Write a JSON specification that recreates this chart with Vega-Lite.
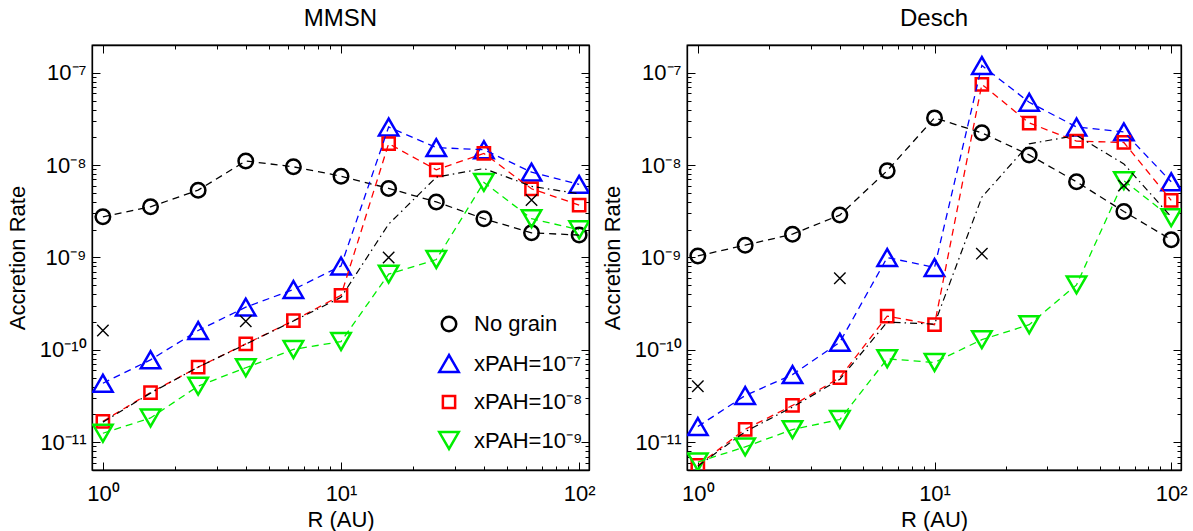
{
  "$schema": "https://vega.github.io/schema/vega-lite/v6.json",
  "padding": {"left": 5, "top": 5, "right": 5, "bottom": 3},
  "config": {
    "font": "Liberation Sans",
    "view": {"stroke": "black", "strokeWidth": 1.3},
    "axis": {"grid": false, "labelFont": "Liberation Sans", "titleFont": "Liberation Sans", "labelFontSize": 22, "titleFontSize": 22, "titleFontWeight": "normal", "labelColor": "black", "titleColor": "black", "domainColor": "black", "tickColor": "black", "domainWidth": 1.3, "tickWidth": 1},
    "legend": {"labelFont": "Liberation Sans", "labelFontSize": 22, "labelColor": "black", "symbolStrokeWidth": 2.5, "rowPadding": 12.5, "labelOffset": 14, "padding": 0},
    "title": {"font": "Liberation Sans", "fontSize": 24, "fontWeight": "normal", "color": "black"}
  },
  "datasets": {
    "mmsn": [
      {"R": 1, "series": "No grain", "rate": 2.76e-9},
      {"R": 1.585, "series": "No grain", "rate": 3.54e-9},
      {"R": 2.512, "series": "No grain", "rate": 5.36e-9},
      {"R": 3.981, "series": "No grain", "rate": 1.11e-8},
      {"R": 6.31, "series": "No grain", "rate": 9.6e-9},
      {"R": 10, "series": "No grain", "rate": 7.6e-9},
      {"R": 15.85, "series": "No grain", "rate": 5.6e-9},
      {"R": 25.12, "series": "No grain", "rate": 4.0e-9},
      {"R": 39.81, "series": "No grain", "rate": 2.63e-9},
      {"R": 63.1, "series": "No grain", "rate": 1.85e-9},
      {"R": 100, "series": "No grain", "rate": 1.75e-9},
      {"R": 1, "series": "xPAH=10⁻⁷", "rate": 4.35e-11},
      {"R": 1.585, "series": "xPAH=10⁻⁷", "rate": 7.8e-11},
      {"R": 2.512, "series": "xPAH=10⁻⁷", "rate": 1.62e-10},
      {"R": 3.981, "series": "xPAH=10⁻⁷", "rate": 2.9e-10},
      {"R": 6.31, "series": "xPAH=10⁻⁷", "rate": 4.5e-10},
      {"R": 10, "series": "xPAH=10⁻⁷", "rate": 8.1e-10},
      {"R": 15.85, "series": "xPAH=10⁻⁷", "rate": 2.59e-8},
      {"R": 25.12, "series": "xPAH=10⁻⁷", "rate": 1.55e-8},
      {"R": 39.81, "series": "xPAH=10⁻⁷", "rate": 1.47e-8},
      {"R": 63.1, "series": "xPAH=10⁻⁷", "rate": 8.4e-9},
      {"R": 100, "series": "xPAH=10⁻⁷", "rate": 6.2e-9},
      {"R": 1, "series": "xPAH=10⁻⁸", "rate": 1.68e-11},
      {"R": 1.585, "series": "xPAH=10⁻⁸", "rate": 3.45e-11},
      {"R": 2.512, "series": "xPAH=10⁻⁸", "rate": 6.5e-11},
      {"R": 3.981, "series": "xPAH=10⁻⁸", "rate": 1.16e-10},
      {"R": 6.31, "series": "xPAH=10⁻⁸", "rate": 2.07e-10},
      {"R": 10, "series": "xPAH=10⁻⁸", "rate": 3.9e-10},
      {"R": 15.85, "series": "xPAH=10⁻⁸", "rate": 1.71e-8},
      {"R": 25.12, "series": "xPAH=10⁻⁸", "rate": 8.9e-9},
      {"R": 39.81, "series": "xPAH=10⁻⁸", "rate": 1.34e-8},
      {"R": 63.1, "series": "xPAH=10⁻⁸", "rate": 5.55e-9},
      {"R": 100, "series": "xPAH=10⁻⁸", "rate": 3.7e-9},
      {"R": 1, "series": "xPAH=10⁻⁹", "rate": 1.25e-11},
      {"R": 1.585, "series": "xPAH=10⁻⁹", "rate": 1.83e-11},
      {"R": 2.512, "series": "xPAH=10⁻⁹", "rate": 4.05e-11},
      {"R": 3.981, "series": "xPAH=10⁻⁹", "rate": 6.4e-11},
      {"R": 6.31, "series": "xPAH=10⁻⁹", "rate": 1.01e-10},
      {"R": 10, "series": "xPAH=10⁻⁹", "rate": 1.23e-10},
      {"R": 15.85, "series": "xPAH=10⁻⁹", "rate": 6.6e-10},
      {"R": 25.12, "series": "xPAH=10⁻⁹", "rate": 9.5e-10},
      {"R": 39.81, "series": "xPAH=10⁻⁹", "rate": 6.5e-9},
      {"R": 63.1, "series": "xPAH=10⁻⁹", "rate": 2.63e-9},
      {"R": 100, "series": "xPAH=10⁻⁹", "rate": 2.0e-9},
      {"R": 1, "series": "dash-dot", "rate": 1.65e-11},
      {"R": 1.585, "series": "dash-dot", "rate": 3.4e-11},
      {"R": 2.512, "series": "dash-dot", "rate": 6.5e-11},
      {"R": 3.981, "series": "dash-dot", "rate": 1.15e-10},
      {"R": 6.31, "series": "dash-dot", "rate": 2.05e-10},
      {"R": 10, "series": "dash-dot", "rate": 3.7e-10},
      {"R": 15.85, "series": "dash-dot", "rate": 2.3e-9},
      {"R": 25.12, "series": "dash-dot", "rate": 7.4e-9},
      {"R": 39.81, "series": "dash-dot", "rate": 9.2e-9},
      {"R": 63.1, "series": "dash-dot", "rate": 5.9e-9},
      {"R": 100, "series": "dash-dot", "rate": 4.9e-9},
      {"R": 1, "series": "cross", "rate": 1.62e-10},
      {"R": 3.981, "series": "cross", "rate": 2.04e-10},
      {"R": 15.85, "series": "cross", "rate": 1.0e-9},
      {"R": 63.1, "series": "cross", "rate": 4.2e-9}
    ],
    "desch": [
      {"R": 1, "series": "No grain", "rate": 1.04e-9},
      {"R": 1.585, "series": "No grain", "rate": 1.36e-9},
      {"R": 2.512, "series": "No grain", "rate": 1.79e-9},
      {"R": 3.981, "series": "No grain", "rate": 2.88e-9},
      {"R": 6.31, "series": "No grain", "rate": 8.7e-9},
      {"R": 10, "series": "No grain", "rate": 3.25e-8},
      {"R": 15.85, "series": "No grain", "rate": 2.24e-8},
      {"R": 25.12, "series": "No grain", "rate": 1.29e-8},
      {"R": 39.81, "series": "No grain", "rate": 6.6e-9},
      {"R": 63.1, "series": "No grain", "rate": 3.15e-9},
      {"R": 100, "series": "No grain", "rate": 1.56e-9},
      {"R": 1, "series": "xPAH=10⁻⁷", "rate": 1.48e-11},
      {"R": 1.585, "series": "xPAH=10⁻⁷", "rate": 3.2e-11},
      {"R": 2.512, "series": "xPAH=10⁻⁷", "rate": 5.4e-11},
      {"R": 3.981, "series": "xPAH=10⁻⁷", "rate": 1.21e-10},
      {"R": 6.31, "series": "xPAH=10⁻⁷", "rate": 1.0e-9},
      {"R": 10, "series": "xPAH=10⁻⁷", "rate": 7.8e-10},
      {"R": 15.85, "series": "xPAH=10⁻⁷", "rate": 1.2e-7},
      {"R": 25.12, "series": "xPAH=10⁻⁷", "rate": 4.8e-8},
      {"R": 39.81, "series": "xPAH=10⁻⁷", "rate": 2.59e-8},
      {"R": 63.1, "series": "xPAH=10⁻⁷", "rate": 2.29e-8},
      {"R": 100, "series": "xPAH=10⁻⁷", "rate": 6.6e-9},
      {"R": 1, "series": "xPAH=10⁻⁸", "rate": 5.6e-12},
      {"R": 1.585, "series": "xPAH=10⁻⁸", "rate": 1.38e-11},
      {"R": 2.512, "series": "xPAH=10⁻⁸", "rate": 2.5e-11},
      {"R": 3.981, "series": "xPAH=10⁻⁸", "rate": 5.0e-11},
      {"R": 6.31, "series": "xPAH=10⁻⁸", "rate": 2.32e-10},
      {"R": 10, "series": "xPAH=10⁻⁸", "rate": 1.87e-10},
      {"R": 15.85, "series": "xPAH=10⁻⁸", "rate": 7.5e-8},
      {"R": 25.12, "series": "xPAH=10⁻⁸", "rate": 2.86e-8},
      {"R": 39.81, "series": "xPAH=10⁻⁸", "rate": 1.82e-8},
      {"R": 63.1, "series": "xPAH=10⁻⁸", "rate": 1.76e-8},
      {"R": 100, "series": "xPAH=10⁻⁸", "rate": 4.15e-9},
      {"R": 1, "series": "xPAH=10⁻⁹", "rate": 6.1e-12},
      {"R": 1.585, "series": "xPAH=10⁻⁹", "rate": 8.9e-12},
      {"R": 2.512, "series": "xPAH=10⁻⁹", "rate": 1.37e-11},
      {"R": 3.981, "series": "xPAH=10⁻⁹", "rate": 1.76e-11},
      {"R": 6.31, "series": "xPAH=10⁻⁹", "rate": 8.0e-11},
      {"R": 10, "series": "xPAH=10⁻⁹", "rate": 7.3e-11},
      {"R": 15.85, "series": "xPAH=10⁻⁹", "rate": 1.29e-10},
      {"R": 25.12, "series": "xPAH=10⁻⁹", "rate": 1.87e-10},
      {"R": 39.81, "series": "xPAH=10⁻⁹", "rate": 5.05e-10},
      {"R": 63.1, "series": "xPAH=10⁻⁹", "rate": 6.8e-9},
      {"R": 100, "series": "xPAH=10⁻⁹", "rate": 2.7e-9},
      {"R": 1, "series": "dash-dot", "rate": 5.5e-12},
      {"R": 1.585, "series": "dash-dot", "rate": 1.3e-11},
      {"R": 2.512, "series": "dash-dot", "rate": 2.4e-11},
      {"R": 3.981, "series": "dash-dot", "rate": 4.8e-11},
      {"R": 6.31, "series": "dash-dot", "rate": 2.0e-10},
      {"R": 10, "series": "dash-dot", "rate": 1.9e-10},
      {"R": 15.85, "series": "dash-dot", "rate": 4.5e-9},
      {"R": 25.12, "series": "dash-dot", "rate": 1.7e-8},
      {"R": 39.81, "series": "dash-dot", "rate": 2.1e-8},
      {"R": 63.1, "series": "dash-dot", "rate": 1.03e-8},
      {"R": 100, "series": "dash-dot", "rate": 2.75e-9},
      {"R": 1, "series": "cross", "rate": 4.03e-11},
      {"R": 3.981, "series": "cross", "rate": 5.96e-10},
      {"R": 15.85, "series": "cross", "rate": 1.1e-9},
      {"R": 63.1, "series": "cross", "rate": 6.0e-9}
    ]
  },
  "bounds": "flush",
  "spacing": 98,
  "resolve": {"scale": {"color": "independent", "shape": "independent", "size": "independent"}},
  "hconcat": [
    {
      "title": {"text": "MMSN", "offset": 14},
      "width": 497,
      "height": 425,
      "data": {"name": "mmsn"},
      "layer": [
        {
          "transform": [{"filter": {"field": "series", "oneOf": ["No grain", "xPAH=10⁻⁷", "xPAH=10⁻⁸", "xPAH=10⁻⁹"]}}],
          "mark": {"type": "point", "filled": false, "strokeWidth": 2.5, "opacity": 1, "clip": true},
          "encoding": {
            "x": {"field": "R", "type": "quantitative", "scale": {"type": "log", "domain": [0.9, 110], "nice": false},
              "axis": {"orient": "bottom", "title": "R (AU)", "titlePadding": 5, "labelPadding": 21, "values": [1,2,3,4,5,6,7,8,9,10,20,30,40,50,60,70,80,90,100], "labelExpr": "datum.value == 1 ? '10⁰' : datum.value == 10 ? '10¹' : datum.value == 100 ? '10²' : ''", "tickSize": {"condition": {"test": "indexof([1,10,100], datum.value) >= 0", "value": -8}, "value": -4}}},
            "y": {"field": "rate", "type": "quantitative", "scale": {"type": "log", "domain": [5e-12, 2e-7], "nice": false},
              "axis": {"orient": "left", "title": "Accretion Rate", "titlePadding": 10, "labelPadding": 14, "values": [5e-12,6e-12,7e-12,8e-12,9e-12,1e-11,2e-11,3e-11,4e-11,5e-11,6e-11,7e-11,8e-11,9e-11,1e-10,2e-10,3e-10,4e-10,5e-10,6e-10,7e-10,8e-10,9e-10,1e-9,2e-9,3e-9,4e-9,5e-9,6e-9,7e-9,8e-9,9e-9,1e-8,2e-8,3e-8,4e-8,5e-8,6e-8,7e-8,8e-8,9e-8,1e-7,2e-7], "labelExpr": "datum.value == 1e-7 ? '10⁻⁷' : datum.value == 1e-8 ? '10⁻⁸' : datum.value == 1e-9 ? '10⁻⁹' : datum.value == 1e-10 ? '10⁻¹⁰' : datum.value == 1e-11 ? '10⁻¹¹' : ''", "tickSize": {"condition": {"test": "indexof([1e-11,1e-10,1e-9,1e-8,1e-7], datum.value) >= 0", "value": -8}, "value": -4}}},
            "color": {"field": "series", "type": "nominal", "scale": {"domain": ["No grain", "xPAH=10⁻⁷", "xPAH=10⁻⁸", "xPAH=10⁻⁹"], "range": ["#000000", "#0000ff", "#ff0000", "#00ee00"]},
              "legend": {"orient": "none", "legendX": 346, "legendY": 268, "title": null}},
            "shape": {"field": "series", "type": "nominal", "scale": {"domain": ["No grain", "xPAH=10⁻⁷", "xPAH=10⁻⁸", "xPAH=10⁻⁹"], "range": ["circle", "triangle-up", "square", "triangle-down"]},
              "legend": {"orient": "none", "legendX": 346, "legendY": 268, "title": null}},
            "size": {"field": "series", "type": "nominal", "scale": {"type": "ordinal", "domain": ["No grain", "xPAH=10⁻⁷", "xPAH=10⁻⁸", "xPAH=10⁻⁹"], "range": [210, 380, 150, 380]},
              "legend": {"orient": "none", "legendX": 346, "legendY": 268, "title": null}}
          }
        },
        {
          "transform": [{"filter": {"field": "series", "oneOf": ["No grain", "xPAH=10⁻⁷", "xPAH=10⁻⁸", "xPAH=10⁻⁹"]}}],
          "mark": {"type": "line", "strokeDash": [7, 5], "strokeWidth": 1.3, "clip": true},
          "encoding": {
            "x": {"field": "R", "type": "quantitative", "scale": {"type": "log", "domain": [0.9, 110], "nice": false},
              "axis": {"orient": "top", "labels": false, "title": null, "values": [1,2,3,4,5,6,7,8,9,10,20,30,40,50,60,70,80,90,100], "tickSize": {"condition": {"test": "indexof([1,10,100], datum.value) >= 0", "value": -8}, "value": -4}}},
            "y": {"field": "rate", "type": "quantitative", "scale": {"type": "log", "domain": [5e-12, 2e-7], "nice": false},
              "axis": {"orient": "right", "labels": false, "title": null, "values": [5e-12,6e-12,7e-12,8e-12,9e-12,1e-11,2e-11,3e-11,4e-11,5e-11,6e-11,7e-11,8e-11,9e-11,1e-10,2e-10,3e-10,4e-10,5e-10,6e-10,7e-10,8e-10,9e-10,1e-9,2e-9,3e-9,4e-9,5e-9,6e-9,7e-9,8e-9,9e-9,1e-8,2e-8,3e-8,4e-8,5e-8,6e-8,7e-8,8e-8,9e-8,1e-7,2e-7], "tickSize": {"condition": {"test": "indexof([1e-11,1e-10,1e-9,1e-8,1e-7], datum.value) >= 0", "value": -8}, "value": -4}}},
            "color": {"field": "series", "type": "nominal", "legend": null}
          }
        },
        {
          "transform": [{"filter": {"field": "series", "equal": "dash-dot"}}],
          "mark": {"type": "line", "color": "black", "strokeDash": [7, 4, 1.5, 4], "strokeWidth": 1.2, "clip": true},
          "encoding": {
            "x": {"field": "R", "type": "quantitative", "axis": null},
            "y": {"field": "rate", "type": "quantitative", "axis": null}
          }
        },
        {
          "transform": [{"filter": {"field": "series", "equal": "cross"}}],
          "mark": {"type": "point", "shape": "M-1,-1L1,1M1,-1L-1,1", "filled": false, "color": "black", "size": 130, "strokeWidth": 1.4, "opacity": 1, "clip": true},
          "encoding": {
            "x": {"field": "R", "type": "quantitative", "axis": null},
            "y": {"field": "rate", "type": "quantitative", "axis": null}
          }
        }
      ]
    },
    {
      "title": {"text": "Desch", "offset": 14},
      "width": 494,
      "height": 425,
      "data": {"name": "desch"},
      "layer": [
        {
          "transform": [{"filter": {"field": "series", "oneOf": ["No grain", "xPAH=10⁻⁷", "xPAH=10⁻⁸", "xPAH=10⁻⁹"]}}],
          "mark": {"type": "point", "filled": false, "strokeWidth": 2.5, "opacity": 1, "clip": true},
          "encoding": {
            "x": {"field": "R", "type": "quantitative", "scale": {"type": "log", "domain": [0.9, 110], "nice": false},
              "axis": {"orient": "bottom", "title": "R (AU)", "titlePadding": 5, "labelPadding": 21, "values": [1,2,3,4,5,6,7,8,9,10,20,30,40,50,60,70,80,90,100], "labelExpr": "datum.value == 1 ? '10⁰' : datum.value == 10 ? '10¹' : datum.value == 100 ? '10²' : ''", "tickSize": {"condition": {"test": "indexof([1,10,100], datum.value) >= 0", "value": -8}, "value": -4}}},
            "y": {"field": "rate", "type": "quantitative", "scale": {"type": "log", "domain": [5e-12, 2e-7], "nice": false},
              "axis": {"orient": "left", "title": "Accretion Rate", "titlePadding": 10, "labelPadding": 14, "values": [5e-12,6e-12,7e-12,8e-12,9e-12,1e-11,2e-11,3e-11,4e-11,5e-11,6e-11,7e-11,8e-11,9e-11,1e-10,2e-10,3e-10,4e-10,5e-10,6e-10,7e-10,8e-10,9e-10,1e-9,2e-9,3e-9,4e-9,5e-9,6e-9,7e-9,8e-9,9e-9,1e-8,2e-8,3e-8,4e-8,5e-8,6e-8,7e-8,8e-8,9e-8,1e-7,2e-7], "labelExpr": "datum.value == 1e-7 ? '10⁻⁷' : datum.value == 1e-8 ? '10⁻⁸' : datum.value == 1e-9 ? '10⁻⁹' : datum.value == 1e-10 ? '10⁻¹⁰' : datum.value == 1e-11 ? '10⁻¹¹' : ''", "tickSize": {"condition": {"test": "indexof([1e-11,1e-10,1e-9,1e-8,1e-7], datum.value) >= 0", "value": -8}, "value": -4}}},
            "color": {"field": "series", "type": "nominal", "scale": {"domain": ["No grain", "xPAH=10⁻⁷", "xPAH=10⁻⁸", "xPAH=10⁻⁹"], "range": ["#000000", "#0000ff", "#ff0000", "#00ee00"]}, "legend": null},
            "shape": {"field": "series", "type": "nominal", "scale": {"domain": ["No grain", "xPAH=10⁻⁷", "xPAH=10⁻⁸", "xPAH=10⁻⁹"], "range": ["circle", "triangle-up", "square", "triangle-down"]}, "legend": null},
            "size": {"field": "series", "type": "nominal", "scale": {"type": "ordinal", "domain": ["No grain", "xPAH=10⁻⁷", "xPAH=10⁻⁸", "xPAH=10⁻⁹"], "range": [210, 380, 150, 380]}, "legend": null}
          }
        },
        {
          "transform": [{"filter": {"field": "series", "oneOf": ["No grain", "xPAH=10⁻⁷", "xPAH=10⁻⁸", "xPAH=10⁻⁹"]}}],
          "mark": {"type": "line", "strokeDash": [7, 5], "strokeWidth": 1.3, "clip": true},
          "encoding": {
            "x": {"field": "R", "type": "quantitative", "scale": {"type": "log", "domain": [0.9, 110], "nice": false},
              "axis": {"orient": "top", "labels": false, "title": null, "values": [1,2,3,4,5,6,7,8,9,10,20,30,40,50,60,70,80,90,100], "tickSize": {"condition": {"test": "indexof([1,10,100], datum.value) >= 0", "value": -8}, "value": -4}}},
            "y": {"field": "rate", "type": "quantitative", "scale": {"type": "log", "domain": [5e-12, 2e-7], "nice": false},
              "axis": {"orient": "right", "labels": false, "title": null, "values": [5e-12,6e-12,7e-12,8e-12,9e-12,1e-11,2e-11,3e-11,4e-11,5e-11,6e-11,7e-11,8e-11,9e-11,1e-10,2e-10,3e-10,4e-10,5e-10,6e-10,7e-10,8e-10,9e-10,1e-9,2e-9,3e-9,4e-9,5e-9,6e-9,7e-9,8e-9,9e-9,1e-8,2e-8,3e-8,4e-8,5e-8,6e-8,7e-8,8e-8,9e-8,1e-7,2e-7], "tickSize": {"condition": {"test": "indexof([1e-11,1e-10,1e-9,1e-8,1e-7], datum.value) >= 0", "value": -8}, "value": -4}}},
            "color": {"field": "series", "type": "nominal", "legend": null}
          }
        },
        {
          "transform": [{"filter": {"field": "series", "equal": "dash-dot"}}],
          "mark": {"type": "line", "color": "black", "strokeDash": [7, 4, 1.5, 4], "strokeWidth": 1.2, "clip": true},
          "encoding": {
            "x": {"field": "R", "type": "quantitative", "axis": null},
            "y": {"field": "rate", "type": "quantitative", "axis": null}
          }
        },
        {
          "transform": [{"filter": {"field": "series", "equal": "cross"}}],
          "mark": {"type": "point", "shape": "M-1,-1L1,1M1,-1L-1,1", "filled": false, "color": "black", "size": 130, "strokeWidth": 1.4, "opacity": 1, "clip": true},
          "encoding": {
            "x": {"field": "R", "type": "quantitative", "axis": null},
            "y": {"field": "rate", "type": "quantitative", "axis": null}
          }
        }
      ]
    }
  ]
}
